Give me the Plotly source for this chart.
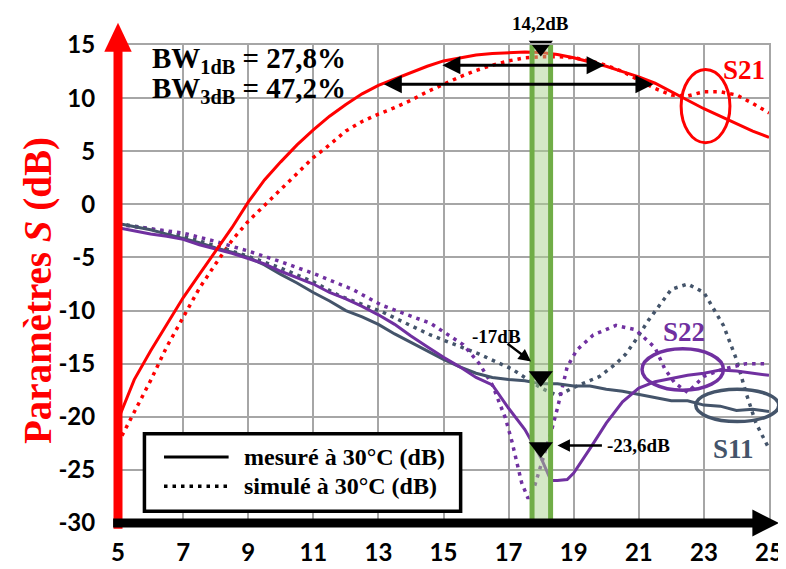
import plotly.graph_objects as go

# ---------------- data ----------------
s21_meas_f = [5, 5.5, 6, 6.5, 7, 7.5, 8, 8.5, 9, 9.5, 10, 10.5, 11, 11.5, 12, 12.5, 13, 13.5, 14, 14.5, 15,
              15.5, 16, 16.5, 17, 17.5, 18, 18.5, 19, 19.5, 20, 20.5, 21, 21.5, 22, 22.5, 23, 23.5, 24, 24.5, 25]
s21_meas_db = [-20.3, -16.5, -13.8, -11.3, -8.8, -6.6, -4.4, -2.2, 0.2, 2.3, 4.0, 5.6, 7.0, 8.3, 9.4, 10.4, 11.2,
               11.8, 12.4, 13.0, 13.5, 13.8, 14.05, 14.2, 14.3, 14.35, 14.3, 14.1, 13.8, 13.4, 13.0, 12.5, 12.0,
               11.4, 10.6, 9.8, 9.0, 8.3, 7.6, 6.9, 6.3]

s21_sim_f = s21_meas_f
s21_sim_db = [-22.5, -19.6, -16.6, -13.4, -10.6, -7.9, -5.6, -3.4, -1.6, -0.1, 1.5, 3.0, 4.4, 5.6, 6.9, 7.8, 8.5,
              9.1, 9.8, 10.6, 11.3, 12.0, 12.6, 13.1, 13.5, 13.8, 13.9, 13.9, 13.8, 13.5, 13.1, 12.5, 11.7, 10.9,
              10.3, 10.2, 10.6, 10.6, 10.3, 9.5, 8.6]

s11_meas_f = [5, 5.5, 6, 6.5, 7, 7.5, 8, 8.5, 9, 9.5, 10, 10.5, 11, 11.5, 12, 12.5, 13, 13.5, 14, 14.5, 15,
              15.5, 16, 16.5, 17, 17.5, 18, 18.5, 19, 19.5, 20, 20.5, 21, 21.5, 22, 22.5, 23, 23.5, 24, 24.5, 25]
s11_meas_db = [-1.8, -2.1, -2.4, -2.8, -3.2, -3.6, -4.1, -4.5, -5.0, -5.7, -6.6, -7.4, -8.3, -9.1, -10.0, -10.6,
               -11.3, -12.2, -13.0, -13.8, -14.6, -15.3, -15.9, -16.3, -16.5, -16.6, -16.9, -16.9, -17.1, -17.1,
               -17.4, -17.6, -17.9, -18.2, -18.5, -18.5, -18.9, -19.0, -19.4, -19.3, -19.5]

s22_meas_f = [5, 5.5, 6, 6.5, 7, 7.5, 8, 8.5, 9, 9.5, 10, 10.5, 11, 11.5, 12, 12.5, 13, 13.5, 14, 14.5, 15,
              15.5, 16, 16.5, 17, 17.5, 18, 18.3, 18.5, 18.8, 19, 19.5, 20, 20.5, 21, 21.5, 22, 22.5, 23, 23.5,
              24, 24.5, 25]
s22_meas_db = [-2.2, -2.5, -2.8, -3.0, -3.3, -3.8, -4.2, -4.6, -5.1, -5.6, -6.3, -6.9, -7.5, -8.3, -8.9, -9.6,
               -10.4, -11.3, -12.4, -13.4, -14.4, -15.3, -16.3, -17.0, -19.2, -21.2, -23.9, -26.0, -26.0, -25.9,
               -25.3, -23.0, -20.6, -18.6, -17.3, -16.7, -16.4, -16.1, -15.9, -15.6, -15.7, -15.9, -16.1]

s11_sim_f = [5, 6, 7, 8, 9, 10, 11, 11.8, 13.1, 14.6, 16.1, 17.1, 17.6, 18.0, 18.5, 19.1, 19.8, 20.3, 20.6,
             20.9, 21.3, 21.6, 22.0, 22.5, 23.0, 23.6, 24.0, 24.3, 24.6, 25]
s11_sim_db = [-1.8, -2.3, -3.0, -3.9, -4.9, -6.0, -7.3, -8.6, -10.1, -12.3, -14.1, -15.5, -16.5, -17.3, -18.0,
              -17.1, -16.2, -15.0, -14.1, -12.8, -10.9, -9.6, -8.0, -7.5, -8.3, -11.4, -14.6, -17.8, -20.6, -23.0]

s22_sim_f = [5, 6, 7, 8, 9, 10, 11, 12.2, 13.1, 14.6, 15.6, 16.1, 16.5, 16.9, 17.1, 17.4, 17.6, 17.8, 18.0,
             18.3, 18.5, 18.7, 18.8, 19.1, 19.6, 20.3, 20.9, 21.5, 21.8, 22.1, 22.5, 23.0, 23.6, 24.3, 25]
s22_sim_db = [-1.9, -2.3, -2.7, -3.5, -4.4, -5.4, -6.5, -8.0, -9.5, -11.2, -13.2, -15.0, -17.0, -20.1, -22.3,
              -26.2, -27.7, -26.5, -24.5, -21.5, -19.2, -16.5, -15.3, -13.7, -12.3, -11.4, -11.8, -13.5, -15.5,
              -16.8, -17.7, -16.2, -15.5, -15.0, -15.0]

marker_f = [17.99, 17.99, 17.99]
marker_db = [14.9, -16.2, -22.9]

band_f = [17.72, 18.29]
bw1_f = [14.92, 19.95]
bw1_db = 13.1
bw3_f = [13.12, 21.45]
bw3_db = 11.3

x_ticks = [5, 7, 9, 11, 13, 15, 17, 19, 21, 23, 25]
y_ticks = [15, 10, 5, 0, -5, -10, -15, -20, -25, -30]
X_RANGE = [5, 25]
Y_RANGE = [-30, 15]

RED = "#FF0000"
PURPLE = "#7030A0"
SLATE = "#44546A"
GREEN = "#70AD47"
SERIF = "Liberation Serif"
SANS = "Lato"

DOT = "3.5px,5px"

fig = go.Figure()


def add_line(f, v, color, width, dash=None):
    fig.add_trace(go.Scatter(x=f, y=v, mode="lines", showlegend=False, hoverinfo="skip",
                             line=dict(color=color, width=width, dash=dash)))


add_line(s21_sim_f, s21_sim_db, RED, 3.5, DOT)
add_line(s11_sim_f, s11_sim_db, SLATE, 3.5, DOT)
add_line(s22_sim_f, s22_sim_db, PURPLE, 3.5, DOT)
add_line(s11_meas_f, s11_meas_db, SLATE, 3)
add_line(s22_meas_f, s22_meas_db, PURPLE, 3)
add_line(s21_meas_f, s21_meas_db, RED, 3)

# green band (translucent fill over the curves, opaque borders)
fig.add_trace(go.Scatter(x=[band_f[0], band_f[1], band_f[1], band_f[0], band_f[0]],
                         y=[Y_RANGE[0], Y_RANGE[0], Y_RANGE[1], Y_RANGE[1], Y_RANGE[0]],
                         mode="lines", fill="toself", fillcolor="rgba(169,209,142,0.5)",
                         line=dict(width=0), showlegend=False, hoverinfo="skip"))
fig.add_trace(go.Scatter(x=[band_f[0], band_f[0], None, band_f[1], band_f[1]],
                         y=[Y_RANGE[0], Y_RANGE[1], None, Y_RANGE[0], Y_RANGE[1]],
                         mode="lines", line=dict(color=GREEN, width=5), showlegend=False,
                         hoverinfo="skip", cliponaxis=False))

fig.add_trace(go.Scatter(x=marker_f, y=marker_db, mode="markers", showlegend=False, hoverinfo="skip",
                         cliponaxis=False,
                         marker=dict(symbol="triangle-down", size=21, color="black")))

# plot geometry (pixels)
W, H = 786, 569
ML, MR, MT, MB = 110, 11, 37, 39
PW, PH = W - ML - MR, H - MT - MB


def px_x(px):
    return (px - ML) / PW


def px_y(py):
    return (H - MB - py) / PH


def dx(f):
    return (f - X_RANGE[0]) / (X_RANGE[1] - X_RANGE[0])


def dy(v):
    return (v - Y_RANGE[0]) / (Y_RANGE[1] - Y_RANGE[0])


shapes = []
# ellipses
shapes.append(dict(type="circle", xref="x", yref="y", x0=22.3, x1=23.8, y0=5.8, y1=12.7,
                   line=dict(color=RED, width=3)))
shapes.append(dict(type="circle", xref="x", yref="y", x0=21.1, x1=23.6, y0=-17.5, y1=-13.6,
                   line=dict(color=PURPLE, width=3.5)))
shapes.append(dict(type="circle", xref="paper", yref="paper", x0=dx(22.75), x1=dx(25.3),
                   y0=dy(-20.45), y1=dy(-17.4), line=dict(color=SLATE, width=3.5)))

# y axis (red, with arrow)
shapes.append(dict(type="line", xref="paper", yref="paper", x0=0, x1=0, y0=px_y(536), y1=px_y(40),
                   line=dict(color=RED, width=9), layer="above"))
shapes.append(dict(type="path", xref="paper", yref="paper",
                   path=f"M {px_x(96)},{px_y(44)} L {px_x(124)},{px_y(44)} L {px_x(110)},{px_y(14)} Z",
                   fillcolor=RED, line=dict(width=0), layer="above"))
# x axis (black, with arrow)
shapes.append(dict(type="line", xref="paper", yref="paper", x0=px_x(105), x1=px_x(764), y0=0, y1=0,
                   line=dict(color="black", width=9), layer="above"))
shapes.append(dict(type="path", xref="paper", yref="paper",
                   path=f"M {px_x(758)},{px_y(516)} L {px_x(758)},{px_y(544)} L {px_x(785)},{px_y(530)} Z",
                   fillcolor="black", line=dict(width=0), layer="above"))

# legend box (manual)
shapes.append(dict(type="rect", xref="paper", yref="paper", x0=px_x(137), x1=px_x(460),
                   y0=px_y(518), y1=px_y(438), fillcolor="white", line=dict(color="black", width=3.5),
                   layer="above"))
shapes.append(dict(type="line", xref="paper", yref="paper", x0=px_x(157), x1=px_x(223),
                   y0=px_y(462), y1=px_y(462), line=dict(color="black", width=3), layer="above"))
shapes.append(dict(type="line", xref="paper", yref="paper", x0=px_x(157), x1=px_x(223),
                   y0=px_y(492), y1=px_y(492), line=dict(color="black", width=3.5, dash=DOT),
                   layer="above"))

ann = []
tfont = dict(family=SERIF, weight="bold", color="black")
# legend texts
ann.append(dict(xref="paper", yref="paper", x=px_x(237), y=px_y(462), xanchor="left", yanchor="middle",
                text="mesuré à 30°C (dB)", showarrow=False, font=dict(tfont, size=24)))
ann.append(dict(xref="paper", yref="paper", x=px_x(237), y=px_y(492), xanchor="left", yanchor="middle",
                text="simulé à 30°C (dB)", showarrow=False, font=dict(tfont, size=24)))

# bandwidth arrows
for (fa, fb), yv in ((bw1_f, bw1_db), (bw3_f, bw3_db)):
    ann.append(dict(x=fb, y=yv, ax=fa, ay=yv, xref="x", yref="y", axref="x", ayref="y", text="",
                    showarrow=True, arrowhead=2, arrowside="end+start", arrowsize=1.2, arrowwidth=3,
                    arrowcolor="black", standoff=0, startstandoff=0))

# BW texts
ann.append(dict(x=5.98, y=13.6, xref="x", yref="y", xanchor="left", yanchor="middle", showarrow=False,
                text="BW<sub>1dB</sub> = 27,8%", font=dict(tfont, size=29)))
ann.append(dict(x=5.98, y=10.8, xref="x", yref="y", xanchor="left", yanchor="middle", showarrow=False,
                text="BW<sub>3dB</sub> = 47,2%", font=dict(tfont, size=29)))

# value labels
ann.append(dict(x=17.99, y=px_y(15), xref="x", yref="paper", xanchor="center", yanchor="middle",
                showarrow=False, text="14,2dB", font=dict(tfont, size=19)))
ann.append(dict(x=16.62, y=-12.45, xref="x", yref="y", xanchor="center", yanchor="middle",
                showarrow=False, text="-17dB", font=dict(tfont, size=19)))
ann.append(dict(x=17.69, y=-14.8, xref="x", yref="y", ax=-25, ay=-19, text="", showarrow=True,
                arrowhead=2, arrowsize=1, arrowwidth=2.5, arrowcolor="black", standoff=0))
ann.append(dict(x=19.97, y=-22.7, xref="x", yref="y", xanchor="left", yanchor="middle",
                showarrow=False, text="-23,6dB", font=dict(tfont, size=19)))
ann.append(dict(x=18.5, y=-22.7, xref="x", yref="y", ax=46, ay=0, text="", showarrow=True,
                arrowhead=2, arrowsize=1, arrowwidth=2.5, arrowcolor="black", standoff=0))

# curve labels
ann.append(dict(x=24.22, y=12.6, xref="x", yref="y", xanchor="center", yanchor="middle", showarrow=False,
                text="S21", font=dict(family=SERIF, weight="bold", size=27, color=RED)))
ann.append(dict(x=22.38, y=-12.0, xref="x", yref="y", xanchor="center", yanchor="middle", showarrow=False,
                text="S22", font=dict(family=SERIF, weight="bold", size=27, color=PURPLE)))
ann.append(dict(x=23.92, y=-23.0, xref="x", yref="y", xanchor="center", yanchor="middle", showarrow=False,
                text="S11", font=dict(family=SERIF, weight="bold", size=27, color=SLATE)))

# y axis title
ann.append(dict(xref="paper", yref="paper", x=px_x(29), y=px_y(290), xanchor="center", yanchor="middle",
                textangle=-90, showarrow=False, text="Paramètres <i>S</i> (dB)",
                font=dict(family=SERIF, weight="bold", size=39, color=RED)))

fig.update_layout(
    width=W, height=H,
    margin=dict(l=ML, r=MR, t=MT, b=MB, pad=0),
    plot_bgcolor="white", paper_bgcolor="white",
    showlegend=False,
    shapes=shapes, annotations=ann,
    xaxis=dict(range=X_RANGE, tickvals=x_ticks, ticktext=[str(t) for t in x_ticks],
               showgrid=True, gridcolor="#A6A6A6", gridwidth=2, zeroline=False,
               showline=True, mirror=True, linecolor="#A6A6A6", linewidth=2,
               ticks="outside", ticklen=7, tickcolor="rgba(0,0,0,0)", ticklabeloverflow="allow",
               tickfont=dict(family=SANS, weight="bold", size=24, color="black")),
    yaxis=dict(range=Y_RANGE, tickvals=y_ticks, ticktext=[str(t) for t in y_ticks],
               showgrid=True, gridcolor="#A6A6A6", gridwidth=2, zeroline=False,
               showline=True, mirror=True, linecolor="#A6A6A6", linewidth=2,
               ticks="outside", ticklen=16, tickcolor="rgba(0,0,0,0)", ticklabeloverflow="allow",
               tickfont=dict(family=SANS, weight="bold", size=24, color="black")),
)

fig.write_html("out.html")
